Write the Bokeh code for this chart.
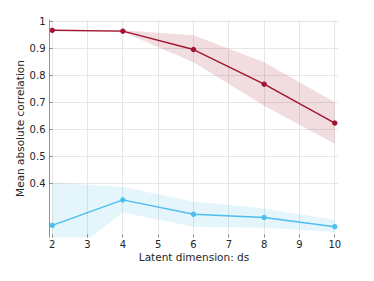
from bokeh.plotting import figure
from bokeh.models import FixedTicker, Range1d
from bokeh.embed import file_html
from bokeh.resources import INLINE

dims = [2, 4, 6, 8, 10]
red_mean = [0.966, 0.963, 0.895, 0.767, 0.623]
red_upper = [0.968, 0.966, 0.948, 0.848, 0.700]
red_lower = [0.964, 0.960, 0.848, 0.687, 0.547]
blue_mean = [0.245, 0.339, 0.286, 0.274, 0.240]
blue_upper = [0.403, 0.387, 0.333, 0.307, 0.265]
blue_lower = [0.092, 0.292, 0.240, 0.236, 0.220]
x_ticks = [2, 3, 4, 5, 6, 7, 8, 9, 10]
y_ticks = [0.4, 0.5, 0.6, 0.7, 0.8, 0.9, 1.0]
y_tick_labels = {0.4: "0.4", 0.5: "0.5", 0.6: "0.6", 0.7: "0.7", 0.8: "0.8", 0.9: "0.9", 1.0: "1"}

RED = "#a2142f"
BLUE = "#4dbeee"
FONT = "DejaVu Sans"

p = figure(width=358, height=265, output_backend="svg", toolbar_location=None,
           x_range=Range1d(1.923, 10.105), y_range=Range1d(0.2, 1.006),
           min_border_left=49, min_border_right=20, min_border_top=19, min_border_bottom=20)
p.outline_line_color = None

p.varea(x=dims, y1=red_lower, y2=red_upper, fill_color=RED, fill_alpha=0.15)
p.varea(x=dims, y1=blue_lower, y2=blue_upper, fill_color=BLUE, fill_alpha=0.15)
p.line(dims, red_mean, line_color=RED, line_width=1.4)
p.scatter(dims, red_mean, size=4.5, color=RED)
p.line(dims, blue_mean, line_color=BLUE, line_width=1.4)
p.scatter(dims, blue_mean, size=4.5, color=BLUE)

p.xaxis.ticker = FixedTicker(ticks=x_ticks)
p.yaxis.ticker = FixedTicker(ticks=y_ticks)
p.yaxis.major_label_overrides = y_tick_labels
p.xaxis.axis_label = "Latent dimension: ds"
p.yaxis.axis_label = "Mean absolute correlation"

for ax in (p.xaxis, p.yaxis):
    ax.major_label_text_font = FONT
    ax.major_label_text_font_size = "10px"
    ax.major_label_text_color = "#262626"
    ax.axis_label_text_font = FONT
    ax.axis_label_text_font_size = "10.5px"
    ax.axis_label_text_font_style = "normal"
    ax.axis_label_text_color = "#262626"
    ax.minor_tick_line_color = None
    ax.major_tick_in = 3
    ax.major_tick_out = 0
    ax.major_tick_line_color = "#888888"

p.xaxis.axis_line_color = None
p.xaxis.major_label_standoff = 2
p.xaxis.axis_label_standoff = 0
p.yaxis.axis_line_color = "#909090"
p.yaxis.major_label_standoff = 4
p.yaxis.axis_label_standoff = 1

p.grid.grid_line_color = "#e6e6e6"
p.grid.grid_line_width = 1

open("out.html", "w").write(file_html(p, INLINE))
